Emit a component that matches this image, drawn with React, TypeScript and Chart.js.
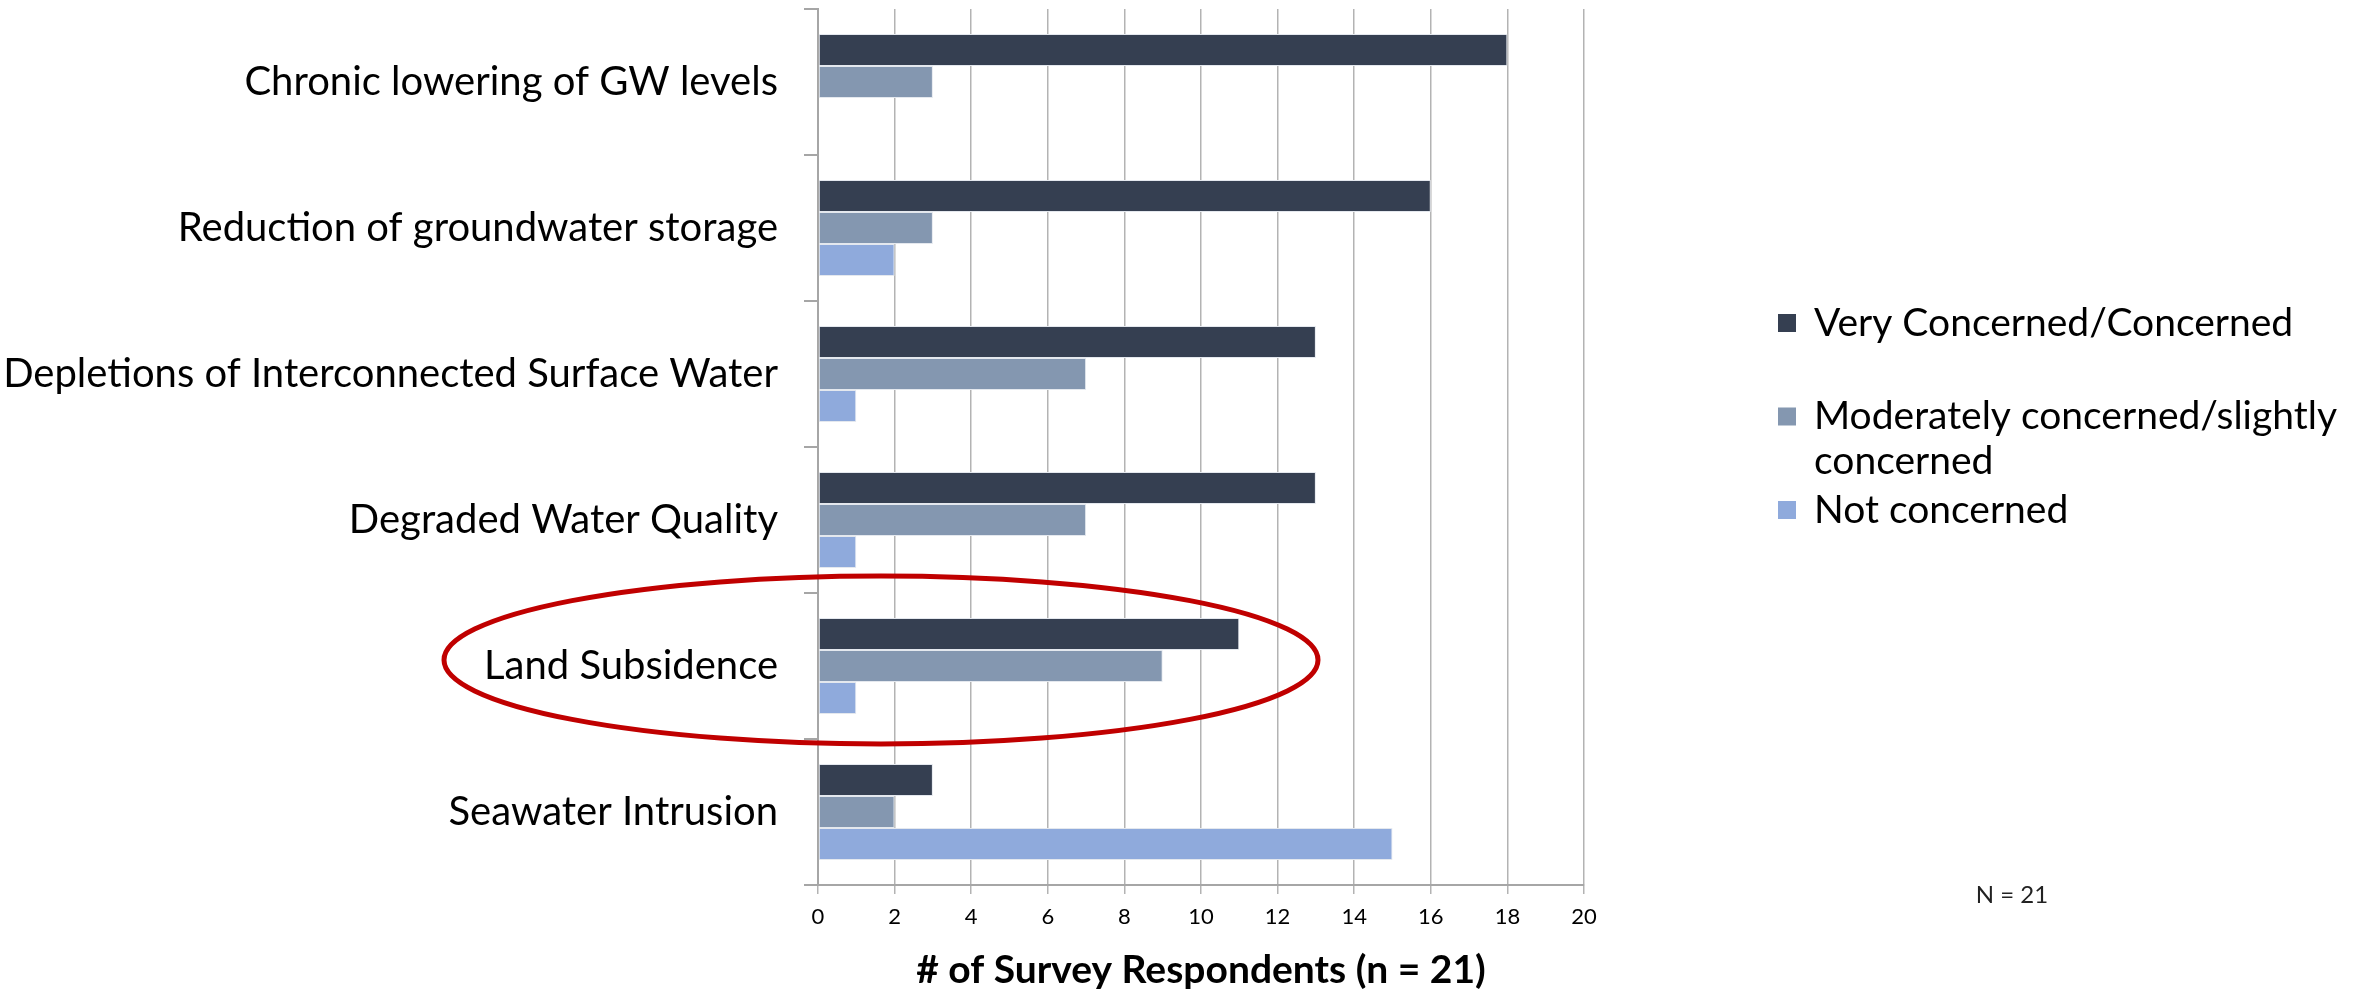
import { useEffect, useRef } from "react";
import { Chart, registerables } from "chart.js";

Chart.register(...registerables);

// Survey categories, top to bottom
const categories = [
  "Chronic lowering of GW levels",
  "Reduction of groundwater storage",
  "Depletions of Interconnected Surface Water",
  "Degraded Water Quality",
  "Land Subsidence",
  "Seawater Intrusion",
];

// Respondent counts per concern level
const veryConcerned = [18, 16, 13, 13, 11, 3];
const moderatelyConcerned = [3, 3, 7, 7, 9, 2];
const notConcerned = [0, 2, 1, 1, 1, 15];

const seriesLabels = [
  "Very Concerned/Concerned",
  "Moderately concerned/slightly concerned",
  "Not concerned",
];
const seriesColors = ["#353F51", "#8497B0", "#8FAADC"];

const xMin = 0;
const xMax = 20;
const xStep = 2;

const axisTitle = "# of Survey Respondents (n = 21)";
const sampleNote = "N = 21";
const highlightedCategory = "Land Subsidence";

const FONT = "Lato, 'Open Sans', sans-serif";

// Highlight ring, side legend and sample-size note
const decorations = {
  id: "decorations",
  afterDraw(chart: any) {
    const { ctx, chartArea, scales } = chart;
    ctx.save();

    // red ring around the highlighted category
    const idx = categories.indexOf(highlightedCategory);
    const cy = scales.y.getPixelForValue(idx) - 6;
    const cx = chartArea.left + 63;
    ctx.beginPath();
    ctx.ellipse(cx, cy, 437, 84, 0, 0, Math.PI * 2);
    ctx.strokeStyle = "#C00000";
    ctx.lineWidth = 5;
    ctx.stroke();

    // legend
    const boxX = chartArea.right + 194;
    const textX = boxX + 36;
    const maxW = chart.width - textX - 5;
    const lineH = 45;
    ctx.font = `39px ${FONT}`;
    ctx.textBaseline = "middle";
    ctx.textAlign = "left";
    chart.data.datasets.forEach((ds: any, i: number) => {
      const y = 323 + i * 93.5;
      ctx.fillStyle = ds.backgroundColor;
      ctx.fillRect(boxX, y - 9, 18, 18);
      ctx.fillStyle = "#000";
      const words = String(ds.label).split(" ");
      const lines: string[] = [];
      let cur = "";
      words.forEach((w) => {
        const test = cur ? cur + " " + w : w;
        if (ctx.measureText(test).width > maxW && cur) {
          lines.push(cur);
          cur = w;
        } else {
          cur = test;
        }
      });
      if (cur) lines.push(cur);
      lines.forEach((ln, k) => ctx.fillText(ln, textX, y + k * lineH));
    });

    // sample size note
    ctx.font = `24px ${FONT}`;
    ctx.fillStyle = "#222";
    ctx.textAlign = "center";
    ctx.fillText(sampleNote, chartArea.right + 428, chartArea.bottom + 10);

    ctx.restore();
  },
};

export default function App() {
  const canvasRef = useRef<HTMLCanvasElement>(null);

  useEffect(() => {
    if (!canvasRef.current) return;
    const chart = new Chart(canvasRef.current, {
      type: "bar",
      data: {
        labels: categories,
        datasets: [veryConcerned, moderatelyConcerned, notConcerned].map((d, i) => ({
          label: seriesLabels[i],
          data: d,
          backgroundColor: seriesColors[i],
          borderColor: "#E4E8EE",
          borderWidth: 1,
          borderSkipped: false,
          categoryPercentage: 0.658,
          barPercentage: 1,
        })),
      },
      options: {
        indexAxis: "y",
        responsive: false,
        devicePixelRatio: 1,
        animation: false,
        layout: { padding: { top: 9, right: 795, left: 0, bottom: 0 } },
        plugins: {
          legend: { display: false },
          tooltip: { enabled: false },
        },
        scales: {
          x: {
            min: xMin,
            max: xMax,
            ticks: {
              stepSize: xStep,
              color: "#000",
              font: { family: FONT, size: 22 },
              padding: 10,
            },
            grid: {
              color: "#B3B3B3",
              lineWidth: 1.5,
              tickLength: 9,
            },
            border: { color: "#A6A6A6", width: 2 },
            title: {
              display: true,
              text: axisTitle,
              color: "#000",
              font: { family: FONT, size: 39, weight: "bold", lineHeight: 1 },
              padding: { top: 0, bottom: 0 },
            },
            afterFit(scale: any) {
              scale.height = 105;
            },
          },
          y: {
            ticks: {
              color: "#000",
              font: { family: FONT, size: 40 },
              padding: 26,
            },
            grid: {
              offset: true,
              drawOnChartArea: false,
              color: "#A6A6A6",
              lineWidth: 2,
              tickLength: 14,
            },
            border: { color: "#A6A6A6", width: 2 },
            afterFit(scale: any) {
              scale.width = 818;
              scale.paddingTop = 0;
              scale.paddingBottom = 0;
            },
          },
        },
      },
      plugins: [decorations],
    });
    return () => chart.destroy();
  }, []);

  return (
    <div style={{ position: "absolute", left: 0, top: 0, width: 2379, height: 990, background: "#fff" }}>
      <canvas ref={canvasRef} width={2379} height={990} style={{ width: 2379, height: 990 }} />
    </div>
  );
}
